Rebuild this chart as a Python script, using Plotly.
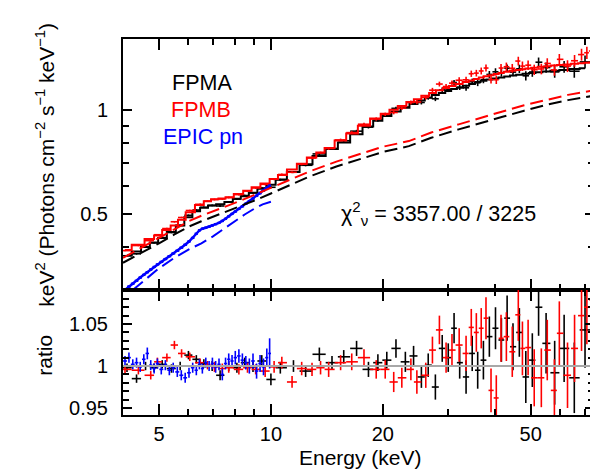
import numpy as np
import plotly.graph_objects as go
from plotly.subplots import make_subplots

# FPMA (black) bins, model, ratio and ratio errors
fpma_e = [4.1, 4.35, 4.6, 4.85, 5.1, 5.4, 5.7, 6.0, 6.3, 6.6, 6.95, 7.3, 7.7, 8.1, 8.5, 8.95, 9.45, 10.0,
          10.6, 11.5, 12.4, 13.5, 14.6, 15.7, 17.0, 18.3, 19.4, 20.5, 21.7, 23.0, 24.2, 25.4, 26.5, 27.7,
          28.9, 30.0, 31.1, 32.2, 33.5, 34.8, 36.0, 37.3, 38.7, 40.2, 41.7, 43.2, 44.8, 46.6, 48.5, 50.5,
          52.5, 55.0, 58.0, 61.5, 65.5, 70.0]
fpma_model = [0.378, 0.388, 0.400, 0.412, 0.425, 0.442, 0.462, 0.488, 0.508, 0.520, 0.528, 0.532, 0.540,
              0.552, 0.562, 0.575, 0.590, 0.606,
              0.628, 0.660, 0.695, 0.735, 0.770, 0.805, 0.850, 0.895, 0.930, 0.960, 0.990, 1.015, 1.040,
              1.065, 1.085, 1.105, 1.120, 1.135, 1.150, 1.160, 1.175, 1.190, 1.205, 1.215, 1.225, 1.235,
              1.243, 1.251, 1.259, 1.266, 1.273, 1.280, 1.286, 1.293, 1.300, 1.307, 1.314, 1.322]
fpma_ratio = [0.998, 0.985, 1.0, 0.998, 1.002, 0.997, 1.0, 1.013, 1.008, 1.003, 1.0, 0.989, 1.0, 0.998,
              1.004, 0.999, 1.006, 0.984,
              0.998, 1.0, 0.994, 1.014, 1.004, 1.011, 1.021, 0.996, 1.004, 1.007, 1.021, 1.005, 1.012,
              0.987, 1.001, 0.975, 1.021, 1.01, 1.045, 1.004, 0.987, 1.015, 0.995, 1.007, 1.035, 1.045,
              1.031, 1.057, 1.023, 1.04, 0.987, 1.007, 1.07, 1.027, 0.992, 1.021, 0.986, 1.043]
fpma_err = [0.005, 0.005, 0.005, 0.005, 0.005, 0.005, 0.005, 0.005, 0.005, 0.005, 0.006, 0.006, 0.006,
            0.006, 0.006, 0.006, 0.007, 0.007,
            0.007, 0.007, 0.007, 0.008, 0.008, 0.008, 0.009, 0.009, 0.010, 0.010,
            0.011, 0.012, 0.012, 0.013, 0.014, 0.015, 0.016, 0.017,
            0.018, 0.019, 0.020, 0.021, 0.022, 0.023, 0.024, 0.025, 0.026,
            0.027, 0.028, 0.029, 0.031, 0.032, 0.034, 0.036, 0.038, 0.040, 0.042, 0.045]

# FPMB (red)
fpmb_e = [4.05, 4.4, 4.75, 4.95, 5.25, 5.5, 5.75, 6.05, 6.45, 6.75, 7.05, 7.4, 7.7, 8.2, 8.65, 9.1, 9.65,
          10.2, 10.7, 11.4, 12.1, 12.9, 13.6, 14.3, 15.4, 16.5, 17.8, 19.2, 20.3, 21.4, 22.5, 23.8, 24.7,
          26.1, 27.2, 28.4, 29.6, 30.7, 32.1, 33.5, 34.6, 35.7, 36.8, 37.9, 39.1, 40.4, 41.6, 43.0, 44.6,
          46.3, 47.5, 49.2, 51.1, 53.4, 55.4, 57.9, 59.7, 62.8, 65.6, 68.5, 70.8, 72.6]
fpmb_model = [0.392, 0.406, 0.422, 0.432, 0.448, 0.462, 0.480, 0.505, 0.530, 0.543, 0.550, 0.553, 0.558,
              0.570, 0.583, 0.596, 0.612, 0.630,
              0.647, 0.672, 0.698, 0.728, 0.752, 0.776, 0.815, 0.855, 0.900, 0.945, 0.975, 1.002, 1.027,
              1.055, 1.075,
              1.100, 1.120, 1.140, 1.158, 1.174, 1.190, 1.205, 1.218, 1.230, 1.242, 1.252, 1.262, 1.272,
              1.281, 1.290, 1.299, 1.307, 1.313, 1.320, 1.327, 1.334, 1.339, 1.346, 1.350, 1.356, 1.361,
              1.366, 1.370, 1.374]
fpmb_ratio = [0.996, 0.995, 0.989, 1.005, 1.01, 1.025, 1.015, 1.011, 1.004, 1.001, 0.999, 0.997, 0.998,
              0.996, 0.998, 0.996, 0.994, 0.999,
              1.004, 0.981, 0.997, 0.996, 0.998, 0.996, 1.004, 1.005, 1.01, 0.996, 0.996, 0.981, 0.986,
              0.996, 0.981,
              0.989, 1.019, 1.043, 1.01, 1.019, 1.025, 1.015, 1.046, 1.04, 1.045, 1.057, 0.971, 0.962,
              1.033, 1.035, 1.017, 1.061, 1.021, 1.022, 0.986, 0.986, 1.019, 0.971, 1.039, 0.989, 1.021,
              1.06, 1.07, 1.079]
fpmb_err = [0.005, 0.005, 0.005, 0.005, 0.005, 0.005, 0.005, 0.005, 0.005, 0.005, 0.006, 0.006, 0.006,
            0.006, 0.006, 0.006, 0.007, 0.007,
            0.007, 0.007, 0.008, 0.008, 0.008, 0.009, 0.009, 0.010, 0.010, 0.011, 0.011, 0.012, 0.012,
            0.013, 0.014,
            0.015, 0.016, 0.017, 0.018, 0.019, 0.020, 0.021, 0.022, 0.023, 0.024, 0.025, 0.026, 0.027,
            0.028, 0.029, 0.030, 0.031, 0.032, 0.033, 0.034, 0.035, 0.036, 0.037, 0.038, 0.039, 0.040,
            0.042, 0.044, 0.046]

# EPIC pn (blue)
pn_e = [4.05, 4.15, 4.25, 4.35, 4.45, 4.55, 4.65, 4.75, 4.85, 4.95, 5.07, 5.2, 5.33, 5.46, 5.6, 5.74,
        5.88, 6.02, 6.16, 6.3, 6.42, 6.54, 6.68, 6.82, 6.96, 7.1, 7.25, 7.4, 7.55, 7.7, 7.86, 8.02, 8.2,
        8.38, 8.56, 8.75, 8.95, 9.15, 9.35, 9.55, 9.75, 9.92]
pn_flux = [0.300, 0.307, 0.313, 0.319, 0.326, 0.332, 0.338, 0.344, 0.350, 0.356, 0.362, 0.369, 0.376,
           0.383, 0.390, 0.398, 0.406, 0.415, 0.425, 0.437, 0.447, 0.452, 0.455, 0.458, 0.462, 0.466,
           0.470, 0.476, 0.483, 0.491, 0.499, 0.507, 0.516, 0.525, 0.534, 0.543, 0.553, 0.563, 0.573,
           0.583, 0.594, 0.603]
pn_ratio = [1.006, 1.01, 1.002, 1.004, 0.999, 1.008, 1.015, 1.001, 0.997, 1.003, 0.996, 1.001, 0.995,
            0.998, 0.993, 0.989, 0.986, 0.992, 0.998, 0.995, 1.002, 0.997, 1.004, 1.0, 1.003, 0.999,
            1.002, 0.99, 1.003, 1.008, 1.006, 1.01, 1.012, 1.007, 1.004, 1.0, 1.006, 0.994, 1.003, 0.999,
            1.01, 1.015]
pn_err = [0.006, 0.006, 0.006, 0.006, 0.006, 0.006, 0.007, 0.006, 0.006, 0.006, 0.006, 0.006, 0.006,
          0.006, 0.006, 0.006, 0.006, 0.006, 0.006, 0.006, 0.006, 0.006, 0.006, 0.006, 0.007, 0.007,
          0.007, 0.007, 0.007, 0.007, 0.007, 0.008, 0.008, 0.008, 0.008, 0.009, 0.009, 0.009, 0.010,
          0.010, 0.011, 0.018]

# continuum components (dashed)
cont_e = [4.0, 4.5, 5.0, 5.5, 6.0, 6.5, 7.0, 7.5, 8.0, 9.0, 10.0, 12.66, 15.0, 17.3, 20.0, 23.5, 27.0,
          32.0, 36.3, 42.0, 48.0, 55.0, 63.0, 74.0]
fpma_cont = [0.360, 0.385, 0.410, 0.435, 0.458, 0.475, 0.490, 0.503, 0.517, 0.545, 0.572, 0.640, 0.685,
             0.720, 0.755, 0.785, 0.830, 0.878, 0.911, 0.955, 0.995, 1.034, 1.068, 1.100]
fpmb_cont = [0.372, 0.398, 0.425, 0.450, 0.475, 0.493, 0.508, 0.522, 0.537, 0.566, 0.595, 0.662, 0.708,
             0.745, 0.782, 0.812, 0.860, 0.908, 0.943, 0.990, 1.032, 1.071, 1.106, 1.140]
pn_cont_e = [4.25, 4.6, 5.0, 5.5, 6.0, 6.5, 7.0, 7.5, 8.0, 8.5, 9.0, 9.5, 10.0]
pn_cont = [0.300, 0.323, 0.347, 0.372, 0.393, 0.410, 0.430, 0.453, 0.476, 0.497, 0.516, 0.532, 0.541]

FONT = "Liberation Sans, Arial, Helvetica, sans-serif"


def bin_halfwidths(e):
    e = np.array(e)
    edges = np.sqrt(e[1:] * e[:-1])
    lo = np.concatenate([[e[0] ** 2 / edges[0]], edges])
    hi = np.concatenate([edges, [e[-1] ** 2 / edges[-1]]])
    return hi - e, e - lo


def add_spectrum(fig, e, model, ratio, err, color):
    plus, minus = bin_halfwidths(e)
    model = np.array(model)
    ratio = np.array(ratio)
    err = np.array(err)
    ex = dict(type="data", symmetric=False, array=plus, arrayminus=minus,
              width=0, thickness=1.6, color=color)
    # top panel: data = model * ratio
    fig.add_trace(go.Scatter(x=e, y=model * ratio, mode="markers",
                             marker=dict(size=1, color=color),
                             error_x=ex,
                             error_y=dict(type="data", array=model * err, width=0,
                                          thickness=1.6, color=color)),
                  row=1, col=1)
    fig.add_trace(go.Scatter(x=e, y=model, mode="lines", line_shape="hvh",
                             line=dict(color=color, width=2)), row=1, col=1)
    fig.add_trace(go.Scatter(x=e, y=ratio, mode="markers",
                             marker=dict(size=1, color=color),
                             error_x=ex,
                             error_y=dict(type="data", array=err, width=0,
                                          thickness=1.6, color=color)),
                  row=2, col=1)


fig = make_subplots(rows=2, cols=1, shared_xaxes=True, vertical_spacing=0,
                    row_heights=[0.6676, 0.3324])

add_spectrum(fig, fpma_e, fpma_model, fpma_ratio, fpma_err, "black")
add_spectrum(fig, fpmb_e, fpmb_model, fpmb_ratio, fpmb_err, "#ff0000")

# EPIC pn
pplus, pminus = bin_halfwidths(pn_e)
fig.add_trace(go.Scatter(x=pn_e, y=pn_flux, mode="lines+markers", marker=dict(size=1, color="#0000ff"),
                         line=dict(color="#0000ff", width=2.5),
                         error_x=dict(type="data", symmetric=False, array=pplus, arrayminus=pminus,
                                      width=0, thickness=2.2, color="#0000ff"),
                         error_y=dict(type="data", array=np.array(pn_flux) * 0.008, width=0,
                                      thickness=2, color="#0000ff")), row=1, col=1)
fig.add_trace(go.Scatter(x=pn_e, y=pn_ratio, mode="markers", marker=dict(size=1, color="#0000ff"),
                         error_x=dict(type="data", symmetric=False, array=pplus, arrayminus=pminus,
                                      width=0, thickness=1.6, color="#0000ff"),
                         error_y=dict(type="data", array=pn_err, width=0,
                                      thickness=1.6, color="#0000ff")), row=2, col=1)

# dashed components
fig.add_trace(go.Scatter(x=cont_e, y=fpma_cont, mode="lines",
                         line=dict(color="black", width=2, dash="13px,6px")), row=1, col=1)
fig.add_trace(go.Scatter(x=cont_e, y=fpmb_cont, mode="lines",
                         line=dict(color="#ff0000", width=2, dash="13px,6px")), row=1, col=1)
fig.add_trace(go.Scatter(x=pn_cont_e, y=pn_cont, mode="lines",
                         line=dict(color="#0000ff", width=2, dash="13px,6px")), row=1, col=1)

fig.add_hline(y=1, line=dict(color="#a8a8a8", width=2), row=2, col=1)

axis_common = dict(showline=True, linecolor="black", linewidth=2, mirror="allticks",
                   ticks="inside", tickwidth=2, tickcolor="black", showgrid=False, zeroline=False,
                   automargin=False, tickfont=dict(family=FONT, size=20, color="black"))
x_minor = dict(tickvals=[6, 7, 8, 9, 30, 40, 60, 70], ticks="inside", ticklen=6,
               tickwidth=1.5, tickcolor="black")

fig.update_xaxes(type="log", range=[np.log10(4), np.log10(74)], tickvals=[5, 10, 20, 50],
                 ticktext=["5", "10", "20", "50"], ticklen=11, minor=x_minor, **axis_common)
fig.update_xaxes(showticklabels=False, row=1, col=1)
fig.update_xaxes(ticklabelstandoff=0, row=2, col=1)

fig.update_yaxes(type="log", range=[np.log10(0.30), np.log10(1.607)], tickvals=[0.5, 1],
                 ticktext=["0.5", "1"], ticklen=9, ticklabelstandoff=9,
                 minor=dict(tickvals=[0.4, 0.6, 0.7, 0.8, 0.9], ticks="inside", ticklen=6,
                            tickwidth=1.5, tickcolor="black"),
                 row=1, col=1, **axis_common)
fig.update_yaxes(range=[0.9417, 1.0905], tickvals=[0.95, 1, 1.05], ticktext=["0.95", "1", "1.05"],
                 ticklen=9, ticklabelstandoff=9,
                 minor=dict(tickvals=[0.96, 0.97, 0.98, 0.99, 1.01, 1.02, 1.03, 1.04, 1.06, 1.07, 1.08],
                            ticks="inside", ticklen=6, tickwidth=1.5, tickcolor="black"),
                 row=2, col=1, **axis_common)

txt = dict(family=FONT, size=21, color="black")
annotations = [
    dict(text="keV<sup>2</sup> (Photons cm<sup>\u22122</sup> s<sup>\u22121</sup> keV<sup>\u22121</sup>)",
         x=-0.166, y=0.665, textangle=-90, font=txt),
    dict(text="ratio", x=-0.166, y=0.16, textangle=-90, font=txt),
    dict(text="Energy (keV)", x=0.505, y=-0.112, font=txt),
    dict(text="FPMA", x=0.168, y=0.883, font=dict(family=FONT, size=21.5, color="black")),
    dict(text="FPMB", x=0.166, y=0.811, font=dict(family=FONT, size=21.5, color="#ff0000")),
    dict(text="EPIC pn", x=0.17, y=0.739, font=dict(family=FONT, size=21.5, color="#0000ff")),
    dict(text="\u03c7<sup>2</sup><sub>\u03bd</sub> = 3357.00 / 3225", x=0.669, y=0.535,
         font=dict(family=FONT, size=21.5, color="black")),
]
for a in annotations:
    fig.add_annotation(xref="paper", yref="paper", showarrow=False,
                       xanchor="center", yanchor="middle", **a)

# the page body keeps its default 8px margin, so the figure is 8px smaller
# and the margins are trimmed to keep the axes where they sit in the reference
fig.update_layout(
    width=590, height=461,
    margin=dict(l=115, r=4, t=31, b=54),
    showlegend=False,
    plot_bgcolor="white",
    paper_bgcolor="white",
    font=dict(family=FONT, size=20, color="black"),
)

fig.write_html("out.html")
